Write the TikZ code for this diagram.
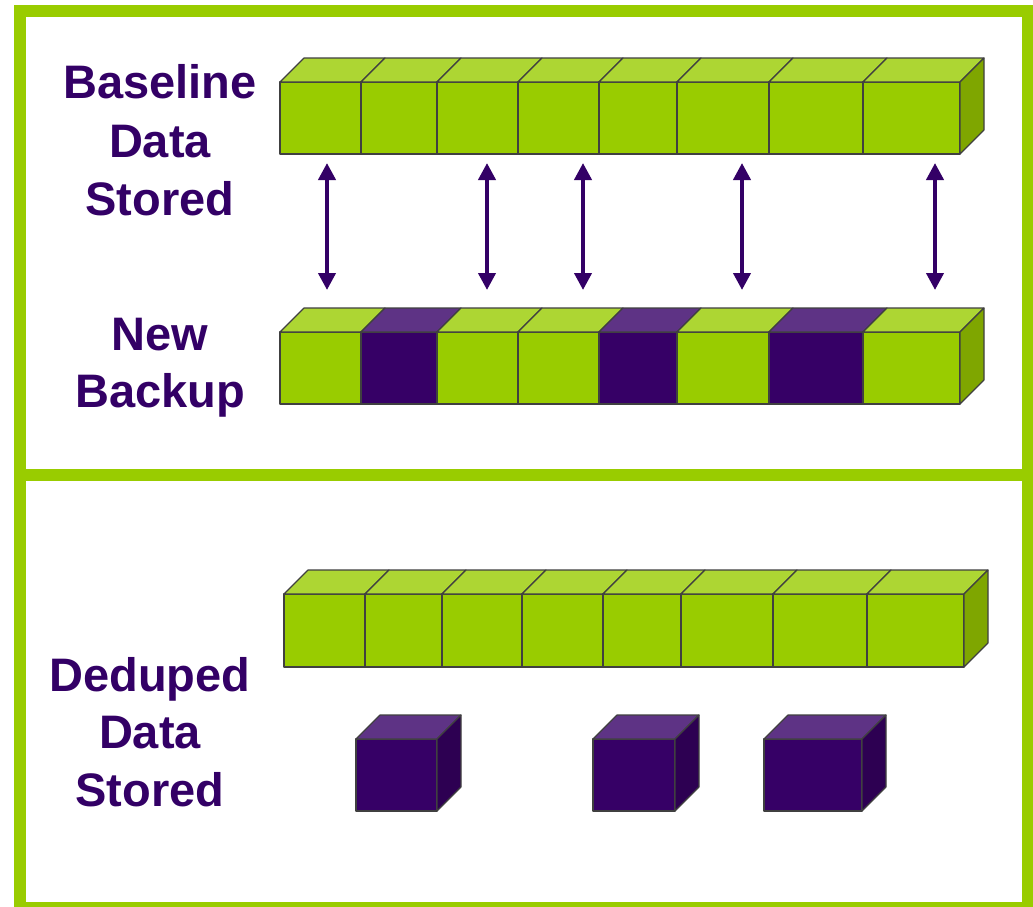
\documentclass[tikz,border=0pt]{standalone}
\usepackage{fontspec}
\setmainfont{Liberation Sans}
\usepackage{tikz}
\usetikzlibrary{arrows.meta}

\definecolor{gfront}{HTML}{99CC00}
\definecolor{gtop}{HTML}{ADD633}
\definecolor{gside}{HTML}{7FA600}
\definecolor{pfront}{HTML}{360066}
\definecolor{ptop}{HTML}{5E3385}
\definecolor{pside}{HTML}{2D0052}
\definecolor{ptext}{HTML}{330066}

\begin{document}
\begin{tikzpicture}[x=1pt, y=-1pt,
				   every node/.style={text=ptext, font=\fontsize{47}{58}\selectfont\bfseries, inner sep=0pt},
				   edge/.style={draw=black!75, line width=1.1pt, line join=round},
				   frame/.style={draw=gfront, line width=12pt},
				   link/.style={{Triangle[width=17pt,length=17pt]}-{Triangle[width=17pt,length=17pt]}, draw=ptext, line width=4pt}]
\useasboundingbox (0,0) rectangle (1033,906);
\fill[white] (0,0) rectangle (1033,906);

% frame
\draw[frame] (20,11) rectangle (1028,908);
\draw[frame] (14,475) -- (1033,475);

% baseline row
\foreach \xa/\xb in {280/361, 361/437, 437/518, 518/599, 599/677, 677/769, 769/863, 863/960}{
	\filldraw[edge, fill=gfront] (\xa,82) rectangle (\xb,154);
	\filldraw[edge, fill=gtop] (\xa,82) -- (\xa+24,58) -- (\xb+24,58) -- (\xb,82) -- cycle;
}
\filldraw[edge, fill=gside] (960,82) -- (984,58) -- (984,130) -- (960,154) -- cycle;

% new backup row
\foreach \xa/\xb/\cf/\ct in {280/361/gfront/gtop, 361/437/pfront/ptop, 437/518/gfront/gtop, 518/599/gfront/gtop,
		599/677/pfront/ptop, 677/769/gfront/gtop, 769/863/pfront/ptop, 863/960/gfront/gtop}{
	\filldraw[edge, fill=\cf] (\xa,332) rectangle (\xb,404);
	\filldraw[edge, fill=\ct] (\xa,332) -- (\xa+24,308) -- (\xb+24,308) -- (\xb,332) -- cycle;
}
\filldraw[edge, fill=gside] (960,332) -- (984,308) -- (984,380) -- (960,404) -- cycle;

% deduped row
\foreach \xa/\xb in {284/365, 365/442, 442/522, 522/603, 603/681, 681/773, 773/867, 867/964}{
	\filldraw[edge, fill=gfront] (\xa,594) rectangle (\xb,667);
	\filldraw[edge, fill=gtop] (\xa,594) -- (\xa+24,570) -- (\xb+24,570) -- (\xb,594) -- cycle;
}
\filldraw[edge, fill=gside] (964,594) -- (988,570) -- (988,643) -- (964,667) -- cycle;

% unique blocks
\foreach \xa/\xb in {356/437, 593/675, 764/862}{
	\filldraw[edge, fill=pfront] (\xa,739) rectangle (\xb,811);
	\filldraw[edge, fill=ptop] (\xa,739) -- (\xa+24,715) -- (\xb+24,715) -- (\xb,739) -- cycle;
	\filldraw[edge, fill=pside] (\xb,739) -- (\xb+24,715) -- (\xb+24,787) -- (\xb,811) -- cycle;
}

% matches
\foreach \x [count=\i] in {327, 487, 583, 742, 935}{
	\coordinate (up\i) at (\x,163);
	\coordinate (dn\i) at (\x,290);
	\draw[link] (up\i) -- (dn\i);
}

% labels
\node[anchor=base] (base1) at (160,98) {Baseline};
\node[anchor=base] (base2) at (160,157) {Data};
\node[anchor=base] (base3) at (160,215) {Stored};
\node[anchor=base] (new1) at (160,350) {New};
\node[anchor=base] (new2) at (160,407) {Backup};
\node[anchor=base] (dd1) at (150,691) {Deduped};
\node[anchor=base] (dd2) at (150,748) {Data};
\node[anchor=base] (dd3) at (150,806) {Stored};
\end{tikzpicture}
\end{document}
